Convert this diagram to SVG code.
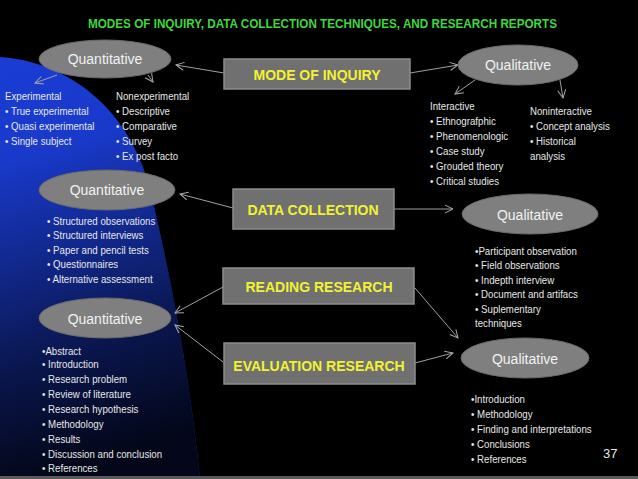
<svg xmlns="http://www.w3.org/2000/svg" width="638" height="479" viewBox="0 0 638 479">
<defs>
<linearGradient id="blueFade" x1="0" y1="0" x2="0.15" y2="1">
<stop offset="0" stop-color="#000000" stop-opacity="0"/>
<stop offset="0.25" stop-color="#000000" stop-opacity="0.05"/>
<stop offset="0.5" stop-color="#000000" stop-opacity="0.35"/>
<stop offset="0.75" stop-color="#000000" stop-opacity="0.65"/>
<stop offset="1" stop-color="#000000" stop-opacity="0.88"/>
</linearGradient>
<marker id="arr" markerUnits="userSpaceOnUse" markerWidth="12" markerHeight="12" refX="9" refY="5" orient="auto" viewBox="0 0 12 10">
<path d="M1,1 L9,5 L1,9" fill="none" stroke="#a8a8a8" stroke-width="1"/>
</marker>
</defs>
<style>
.ell{fill:#7f7f7f;stroke:#6a6a6a;stroke-width:1}
.ellt{font-family:"Liberation Sans",Arial,sans-serif;font-size:14px;fill:#f2f2f2;text-anchor:middle}
.box{fill:#707070;stroke:#8c8c8c;stroke-width:1.5}
.boxt{font-family:"Liberation Sans",Arial,sans-serif;font-size:14px;font-weight:bold;fill:#f2f233;text-anchor:middle}
.lst{font-family:"Liberation Sans",Arial,sans-serif;font-size:11px;fill:#e8e8e8}
.con{stroke:#a0a0a0;stroke-width:1;fill:none;marker-end:url(#arr)}
</style>
<rect x="0" y="0" width="638" height="479" fill="#000"/>
<path d="M0,57 C70,62 130,110 150,190 C172,280 190,380 200,479 L0,479 Z" fill="#1a3cd4"/>
<path d="M0,57 C70,62 130,110 150,190 C172,280 190,380 200,479 L0,479 Z" fill="url(#blueFade)"/>
<rect x="0" y="476" width="638" height="3" fill="#5a5a5a"/>
<text x="322.5" y="28" font-family="'Liberation Sans',Arial,sans-serif" font-size="13.5" font-weight="bold" fill="#3cd83c" text-anchor="middle" textLength="469" lengthAdjust="spacingAndGlyphs">MODES OF INQUIRY, DATA COLLECTION TECHNIQUES, AND RESEARCH REPORTS</text>

<g id="connectors">
<line class="con" x1="224" y1="73" x2="176" y2="65"/>
<line class="con" x1="57" y1="75" x2="35" y2="83"/>
<line class="con" x1="148" y1="75" x2="153" y2="82"/>
<line class="con" x1="410" y1="73" x2="458" y2="65"/>
<line class="con" x1="475" y1="80" x2="455" y2="94"/>
<line class="con" x1="560" y1="80" x2="563" y2="98"/>
<line class="con" x1="233" y1="208" x2="180" y2="194"/>
<line class="con" x1="394" y1="209" x2="453" y2="209"/>
<line class="con" x1="223" y1="287" x2="175" y2="313"/>
<line class="con" x1="415" y1="288" x2="458" y2="338"/>
<line class="con" x1="223" y1="362" x2="175" y2="325"/>
<line class="con" x1="415" y1="363" x2="453" y2="353"/>
</g>

<g id="mode-of-inquiry">
<rect class="box" x="224" y="59" width="186" height="30"/>
<text class="boxt" x="317" y="80">MODE OF INQUIRY</text>
</g>
<g id="data-collection">
<rect class="box" x="233" y="189" width="161" height="40"/>
<text class="boxt" x="313" y="215">DATA COLLECTION</text>
</g>
<g id="reading-research">
<rect class="box" x="223" y="268" width="191" height="36"/>
<text class="boxt" x="319" y="292">READING RESEARCH</text>
</g>
<g id="evaluation-research">
<rect class="box" x="224" y="343" width="191" height="41"/>
<text class="boxt" x="319" y="371">EVALUATION RESEARCH</text>
</g>

<g id="quant-inquiry">
<ellipse class="ell" cx="105" cy="59" rx="66" ry="19"/>
<text class="ellt" x="105" y="64">Quantitative</text>
<g transform="translate(5,0) scale(0.88,1)">
<text class="lst" x="0" y="100">Experimental</text>
<text class="lst" x="0" y="115">• True experimental</text>
<text class="lst" x="0" y="130">• Quasi experimental</text>
<text class="lst" x="0" y="145">• Single subject</text>
</g>
<g transform="translate(116,0) scale(0.88,1)">
<text class="lst" x="0" y="100">Nonexperimental</text>
<text class="lst" x="0" y="115">• Descriptive</text>
<text class="lst" x="0" y="130">• Comparative</text>
<text class="lst" x="0" y="145">• Survey</text>
<text class="lst" x="0" y="160">• Ex post facto</text>
</g>
</g>

<g id="qual-inquiry">
<ellipse class="ell" cx="518" cy="65" rx="60" ry="20"/>
<text class="ellt" x="518" y="70">Qualitative</text>
<g transform="translate(430,0) scale(0.88,1)">
<text class="lst" x="0" y="110">Interactive</text>
<text class="lst" x="0" y="125">• Ethnografphic</text>
<text class="lst" x="0" y="140">• Phenomenologic</text>
<text class="lst" x="0" y="155">• Case study</text>
<text class="lst" x="0" y="170">• Grouded theory</text>
<text class="lst" x="0" y="185">• Critical studies</text>
</g>
<g transform="translate(530,0) scale(0.88,1)">
<text class="lst" x="0" y="115">Noninteractive</text>
<text class="lst" x="0" y="130">• Concept analysis</text>
<text class="lst" x="0" y="145">• Historical</text>
<text class="lst" x="0" y="160">analysis</text>
</g>
</g>

<g id="quant-data">
<ellipse class="ell" cx="107" cy="190" rx="68" ry="20"/>
<text class="ellt" x="107" y="195">Quantitative</text>
<g transform="translate(47,0) scale(0.88,1)">
<text class="lst" x="0" y="225">• Structured observations</text>
<text class="lst" x="0" y="239.5">• Structured interviews</text>
<text class="lst" x="0" y="254">• Paper and pencil tests</text>
<text class="lst" x="0" y="268.5">• Questionnaires</text>
<text class="lst" x="0" y="283">• Alternative assessment</text>
</g>
</g>

<g id="qual-data">
<ellipse class="ell" cx="530" cy="214" rx="68" ry="20"/>
<text class="ellt" x="530" y="220">Qualitative</text>
<g transform="translate(475,0) scale(0.88,1)">
<text class="lst" x="0" y="255">•Participant observation</text>
<text class="lst" x="0" y="269.5">• Field observations</text>
<text class="lst" x="0" y="284">• Indepth interview</text>
<text class="lst" x="0" y="298.5">• Document and artifacs</text>
<text class="lst" x="0" y="313">• Suplementary</text>
<text class="lst" x="0" y="327.5">techniques</text>
</g>
</g>

<g id="quant-report">
<ellipse class="ell" cx="105" cy="318" rx="66" ry="20"/>
<text class="ellt" x="105" y="324">Quantitative</text>
<g transform="translate(42,0) scale(0.88,1)">
<text class="lst" x="0" y="355">•Abstract</text>
<text class="lst" x="0" y="368.5">• Introduction</text>
<text class="lst" x="0" y="383.5">• Research problem</text>
<text class="lst" x="0" y="398.5">• Review of literature</text>
<text class="lst" x="0" y="413.5">• Research hypothesis</text>
<text class="lst" x="0" y="428">• Methodology</text>
<text class="lst" x="0" y="443">• Results</text>
<text class="lst" x="0" y="458">• Discussion and conclusion</text>
<text class="lst" x="0" y="472.5">• References</text>
</g>
</g>

<g id="qual-report">
<ellipse class="ell" cx="525" cy="358" rx="64" ry="20"/>
<text class="ellt" x="525" y="364">Qualitative</text>
<g transform="translate(471,0) scale(0.88,1)">
<text class="lst" x="0" y="403">•Introduction</text>
<text class="lst" x="0" y="418">• Methodology</text>
<text class="lst" x="0" y="433">• Finding and interpretations</text>
<text class="lst" x="0" y="448">• Conclusions</text>
<text class="lst" x="0" y="463">• References</text>
</g>
</g>

<text x="603" y="458" font-family="'Liberation Sans',Arial,sans-serif" font-size="13" fill="#e8e8e8">37</text>
</svg>
